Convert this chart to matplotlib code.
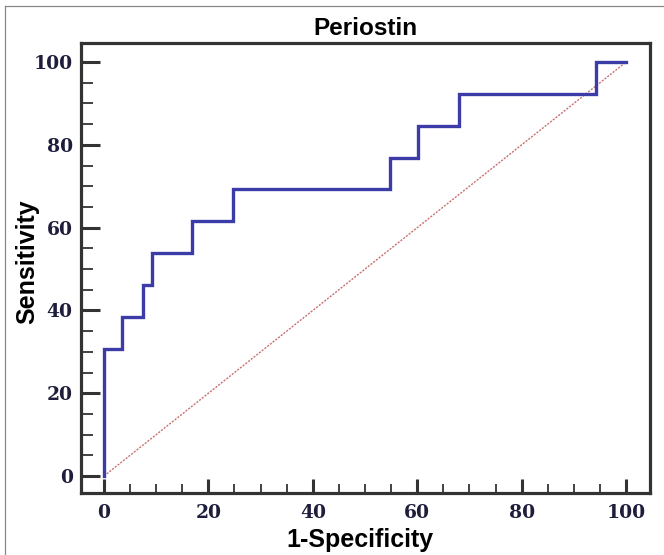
import matplotlib
matplotlib.use("Agg")
import matplotlib.pyplot as plt
from matplotlib.lines import Line2D
from matplotlib.ticker import MultipleLocator

# ROC curve corner points (1-specificity, sensitivity), in %
fpr = [0, 0, 3.45, 3.45, 7.5, 7.5, 9.2, 9.2, 16.9, 16.9, 24.7, 24.7,
       54.8, 54.8, 60.2, 60.2, 68.0, 68.0, 94.3, 94.3, 100]
tpr = [0, 30.77, 30.77, 38.46, 38.46, 46.15, 46.15, 53.85, 53.85, 61.54, 61.54, 69.23,
       69.23, 76.92, 76.92, 84.62, 84.62, 92.31, 92.31, 100, 100]

ref_x = [0, 100]
ref_y = [0, 100]

fig = plt.figure(figsize=(6.64, 5.55), dpi=100)
ax = fig.add_axes([0.122, 0.1117, 0.857, 0.8108])

ax.plot(ref_x, ref_y, color="#c87070", lw=1.0, ls=(0, (1.5, 1.0)))
ax.plot(fpr, tpr, color="#3c3ca8", lw=2.4, solid_joinstyle="miter")

ax.set_xlim(-4.4, 104.6)
ax.set_ylim(-4.1, 104.6)
ax.xaxis.set_major_locator(MultipleLocator(20))
ax.xaxis.set_minor_locator(MultipleLocator(5))
ax.yaxis.set_major_locator(MultipleLocator(20))
ax.yaxis.set_minor_locator(MultipleLocator(5))

for s in ax.spines.values():
    s.set_linewidth(2.3)
    s.set_color("#333333")

tick_font = {"family": "DejaVu Serif", "weight": "bold", "size": 13.5}
ax.tick_params(axis="x", which="major", direction="in", length=10, width=2.2,
               color="#333333", pad=8)
ax.tick_params(axis="x", which="minor", direction="in", length=6.5, width=1.3,
               color="#333333")
ax.tick_params(axis="y", which="major", direction="in", length=13.5, width=2.2,
               color="#333333", pad=6)
ax.tick_params(axis="y", which="minor", direction="in", length=8.5, width=1.3,
               color="#333333")
for lbl in ax.get_xticklabels() + ax.get_yticklabels():
    lbl.set_fontproperties(tick_font)
    lbl.set_color("#1e1e3c")

ax.set_title("Periostin", fontsize=17.5, fontweight="bold", family="Liberation Sans", pad=6)
ax.set_xlabel("1-Specificity", fontsize=18, fontweight="bold", family="Liberation Sans")
ax.set_ylabel("Sensitivity", fontsize=18, fontweight="bold", family="Liberation Sans")
ax.xaxis.set_label_coords(0.49, -0.104)
ax.yaxis.set_label_coords(-0.095, 0.513)
ax.xaxis.label.set_va("center")
ax.yaxis.label.set_va("center")

# thin grey border of the original image (left and top)
fig.add_artist(Line2D([5 / 664, 5 / 664], [0, 1 - 6 / 555], transform=fig.transFigure,
                      color="#888888", lw=0.9))
fig.add_artist(Line2D([5 / 664, 1], [1 - 6 / 555, 1 - 6 / 555], transform=fig.transFigure,
                      color="#888888", lw=0.9))

fig.savefig("out.png", dpi=100)
